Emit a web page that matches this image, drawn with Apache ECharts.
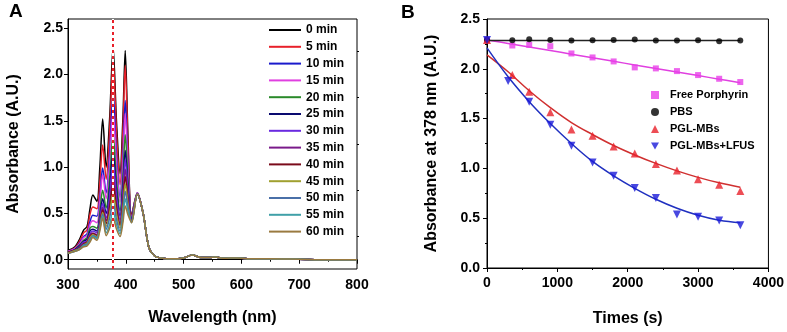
<!DOCTYPE html>
<html>
<head>
<meta charset="utf-8">
<script src="https://cdn.jsdelivr.net/npm/echarts@6/dist/echarts.min.js"></script>
<style>
  html, body { margin: 0; padding: 0; background: #fff; }
  #chart { width: 787px; height: 332px; }
</style>
</head>
<body>
<div id="chart"></div>
<script>
// panel A: absorption spectra
var wavelengths = [300, 312, 320, 327, 333, 338, 343, 350, 355, 360, 366, 372, 378, 384, 390, 395, 399, 404, 410, 420, 430, 440, 450];
var tailWavelengths = [460, 480, 500, 515, 530, 545, 555, 570, 592, 610, 650, 700, 750, 800];
var tailAbs = [0.02, 0.01, 0.02, 0.05, 0.025, 0.025, 0.03, 0.015, 0.02, 0.01, 0.01, 0.005, 0.0, 0.0];

var timeLabels = ["0 min", "5 min", "10 min", "15 min", "20 min", "25 min", "30 min", "35 min", "40 min", "45 min", "50 min", "55 min", "60 min"];
var spectraColors = ["#000000", "#e8202a", "#1a1acc", "#e040e0", "#2a8a2a", "#0a0a70", "#6a2ae0", "#7a1a8a", "#7a0a1a", "#a0a030", "#4a70a8", "#40a0a8", "#9a7a40"];

var abs0 = [0.10, 0.14, 0.22, 0.32, 0.36, 0.55, 0.70, 0.63, 0.99, 1.52, 1.00, 1.52, 2.30, 1.48, 0.93, 1.53, 2.26, 1.28, 0.48, 0.72, 0.50, 0.13, 0.04];
var abs5 = [0.09, 0.13, 0.20, 0.29, 0.32, 0.49, 0.57, 0.55, 0.83, 1.24, 0.87, 1.39, 2.18, 1.36, 0.81, 1.39, 2.10, 1.20, 0.47, 0.72, 0.50, 0.13, 0.04];
var abs10 = [0.09, 0.12, 0.18, 0.25, 0.28, 0.41, 0.48, 0.47, 0.68, 0.99, 0.72, 1.15, 1.80, 1.12, 0.67, 1.14, 1.72, 1.02, 0.45, 0.72, 0.50, 0.13, 0.04];
var abs15 = [0.09, 0.12, 0.17, 0.24, 0.26, 0.38, 0.42, 0.40, 0.62, 0.92, 0.66, 1.04, 1.62, 1.02, 0.62, 1.05, 1.58, 0.95, 0.44, 0.72, 0.50, 0.13, 0.04];
var abs20 = [0.08, 0.11, 0.16, 0.21, 0.24, 0.34, 0.36, 0.34, 0.52, 0.75, 0.56, 0.88, 1.35, 0.86, 0.53, 0.90, 1.35, 0.84, 0.43, 0.71, 0.50, 0.13, 0.04];
var abs25 = [0.08, 0.11, 0.15, 0.20, 0.22, 0.31, 0.33, 0.31, 0.46, 0.66, 0.50, 0.77, 1.18, 0.75, 0.47, 0.79, 1.18, 0.77, 0.43, 0.71, 0.50, 0.13, 0.04];
var abs30 = [0.08, 0.10, 0.14, 0.19, 0.20, 0.28, 0.31, 0.29, 0.43, 0.61, 0.45, 0.69, 1.05, 0.68, 0.43, 0.72, 1.08, 0.72, 0.42, 0.71, 0.50, 0.13, 0.04];
var abs35 = [0.08, 0.10, 0.13, 0.18, 0.19, 0.27, 0.29, 0.27, 0.40, 0.57, 0.42, 0.62, 0.92, 0.60, 0.39, 0.66, 0.98, 0.67, 0.42, 0.71, 0.50, 0.13, 0.04];
var abs40 = [0.08, 0.10, 0.13, 0.17, 0.19, 0.25, 0.28, 0.26, 0.38, 0.54, 0.39, 0.56, 0.82, 0.55, 0.37, 0.61, 0.90, 0.63, 0.41, 0.71, 0.50, 0.13, 0.04];
var abs45 = [0.07, 0.10, 0.12, 0.16, 0.18, 0.24, 0.27, 0.25, 0.36, 0.51, 0.36, 0.50, 0.72, 0.49, 0.34, 0.56, 0.82, 0.60, 0.41, 0.71, 0.50, 0.13, 0.04];
var abs50 = [0.07, 0.09, 0.12, 0.16, 0.17, 0.22, 0.26, 0.24, 0.35, 0.49, 0.33, 0.45, 0.62, 0.43, 0.31, 0.50, 0.74, 0.56, 0.41, 0.71, 0.50, 0.13, 0.04];
var abs55 = [0.07, 0.09, 0.11, 0.15, 0.16, 0.20, 0.25, 0.23, 0.33, 0.47, 0.29, 0.38, 0.52, 0.38, 0.28, 0.45, 0.66, 0.52, 0.40, 0.71, 0.50, 0.13, 0.04];
var abs60 = [0.07, 0.09, 0.11, 0.14, 0.15, 0.19, 0.24, 0.21, 0.31, 0.45, 0.26, 0.34, 0.45, 0.33, 0.25, 0.40, 0.58, 0.48, 0.40, 0.71, 0.50, 0.13, 0.04];
var spectra = [abs0, abs5, abs10, abs15, abs20, abs25, abs30, abs35, abs40, abs45, abs50, abs55, abs60];

// panel B: absorbance at 378 nm vs time
var timesA = [0, 360, 600, 900, 1200, 1500, 1800, 2100, 2400, 2700, 3000, 3300, 3600];
var timesB = [0, 300, 600, 900, 1200, 1500, 1800, 2100, 2400, 2700, 3000, 3300, 3600];
var freePorphyrin = [2.29, 2.234, 2.24, 2.227, 2.154, 2.114, 2.074, 2.014, 2.004, 1.977, 1.937, 1.90, 1.867];
var pbs = [2.29, 2.287, 2.297, 2.29, 2.284, 2.287, 2.29, 2.294, 2.284, 2.284, 2.287, 2.277, 2.284];
var pglMBs = [2.29, 1.937, 1.77, 1.564, 1.39, 1.327, 1.22, 1.15, 1.044, 0.98, 0.89, 0.835, 0.772];
var pglMBsLFUS = [2.29, 1.877, 1.67, 1.437, 1.227, 1.06, 0.927, 0.804, 0.704, 0.537, 0.514, 0.477, 0.43];

// fitted curves as drawn in the picture
var fitTimes = [0, 300, 600, 900, 1200, 1500, 1800, 2100, 2400, 2700, 3000, 3300, 3600];
var fitFree = [2.29, 2.254, 2.218, 2.183, 2.147, 2.111, 2.075, 2.039, 2.003, 1.968, 1.932, 1.896, 1.86];
var fitPBS = [2.285, 2.285, 2.285, 2.285, 2.285, 2.285, 2.285, 2.285, 2.285, 2.285, 2.285, 2.285, 2.285];
var fitMBs = [2.14, 1.97, 1.78, 1.61, 1.46, 1.34, 1.23, 1.135, 1.05, 0.975, 0.91, 0.855, 0.81];
var fitLFUS = [2.21, 1.92, 1.67, 1.45, 1.25, 1.07, 0.925, 0.80, 0.69, 0.60, 0.53, 0.48, 0.455];

var yTicksA = [0, 0.5, 1.0, 1.5, 2.0, 2.5];
var yMinorTicksA = [0.25, 0.75, 1.25, 1.75, 2.25];

function pairs(xs, ys) {
  return xs.map(function (x, i) { return [x, ys[i]]; });
}

var FONT = "'Liberation Sans', Arial, sans-serif";
var downTriangle = "path://M0,0L10,0L5,9z";

var spectraSeries = spectra.map(function (arr, i) {
  var s = {
    name: timeLabels[i],
    type: "line",
    xAxisIndex: 0,
    yAxisIndex: 0,
    showSymbol: false,
    symbol: "none",
    smooth: 0.3,
    color: spectraColors[i],
    lineStyle: { width: 1.5, color: spectraColors[i] },
    data: pairs(wavelengths, arr).concat(pairs(tailWavelengths, tailAbs)),
  };
  if (i === spectra.length - 1) {
    s.markLine = {
      silent: true,
      symbol: "none",
      label: { show: false },
      data: [
        { xAxis: 378, lineStyle: { color: "#ffffff", type: "solid", width: 2 } },
        { xAxis: 378, lineStyle: { color: "#e8202a", type: [3, 3], width: 2 } },
      ],
    };
  }
  return s;
});

function fitLine(name, data, color) {
  return {
    name: name,
    type: "line",
    xAxisIndex: 1,
    yAxisIndex: 2,
    showSymbol: false,
    symbol: "none",
    smooth: 0.4,
    lineStyle: { width: 1.5, color: color },
    data: pairs(fitTimes, data),
    z: 2,
  };
}

function pointSeries(name, times, data, symbol, size, color) {
  return {
    name: name,
    type: "scatter",
    xAxisIndex: 1,
    yAxisIndex: 2,
    symbol: symbol,
    symbolSize: size,
    itemStyle: { color: color },
    data: pairs(times, data),
    z: 3,
  };
}

var axisLabelStyle = { color: "#000", fontFamily: FONT, fontWeight: "bold", fontSize: 14 };
var axisNameStyle = { color: "#000", fontFamily: FONT, fontWeight: "bold", fontSize: 16 };

var option = {
  animation: false,
  backgroundColor: "#fff",
  graphic: [
    { type: "text", left: 9, top: 2, style: { text: "A", font: "bold 19px " + FONT, fill: "#000" } },
    { type: "text", left: 401, top: 3, style: { text: "B", font: "bold 19px " + FONT, fill: "#000" } },
  ],
  grid: [
    { left: 68, top: 19, width: 289, height: 250, show: true, borderColor: "#000", borderWidth: 1 },
    { left: 487, top: 19, width: 286, height: 250, show: true, borderColor: "#000", borderWidth: 1 },
  ],
  legend: [
    {
      data: timeLabels,
      orient: "vertical",
      left: 264,
      top: 18,
      icon: "rect",
      itemWidth: 32,
      itemHeight: 2,
      itemGap: 2.8,
      textStyle: { color: "#000", fontFamily: FONT, fontWeight: "bold", fontSize: 12, lineHeight: 14 },
    },
    {
      data: ["Free Porphyrin", "PBS", "PGL-MBs", "PGL-MBs+LFUS"],
      orient: "vertical",
      left: 646,
      top: 83,
      itemWidth: 8,
      itemHeight: 8,
      itemGap: 3,
      textStyle: { color: "#000", fontFamily: FONT, fontWeight: "bold", fontSize: 11, lineHeight: 14, padding: [0, 0, 0, 6] },
    },
  ],
  xAxis: [
    {
      gridIndex: 0,
      type: "value",
      min: 300,
      max: 800,
      interval: 100,
      name: "Wavelength (nm)",
      nameLocation: "middle",
      nameGap: 41,
      nameTextStyle: axisNameStyle,
      axisLine: { lineStyle: { color: "#000", width: 1 } },
      axisTick: { inside: false, length: 4, lineStyle: { color: "#000" } },
      minorTick: { show: true, splitNumber: 2, length: 2, lineStyle: { color: "#000" } },
      axisLabel: Object.assign({ margin: 9 }, axisLabelStyle),
      splitLine: { show: false },
    },
    {
      gridIndex: 1,
      type: "value",
      min: 0,
      max: 4000,
      interval: 1000,
      name: "Times (s)",
      nameLocation: "middle",
      nameGap: 43,
      nameTextStyle: axisNameStyle,
      axisLine: { lineStyle: { color: "#000", width: 1 } },
      axisTick: { inside: false, length: 4, lineStyle: { color: "#000" } },
      minorTick: { show: true, splitNumber: 2, length: 2, lineStyle: { color: "#000" } },
      axisLabel: Object.assign({
        margin: 8,
        formatter: function (v) { return String(v); },
      }, axisLabelStyle),
      splitLine: { show: false },
    },
  ],
  yAxis: [
    {
      gridIndex: 0,
      type: "value",
      min: -0.1,
      max: 2.6,
      name: "Absorbance (A.U.)",
      nameLocation: "middle",
      nameGap: 46,
      nameTextStyle: axisNameStyle,
      axisLine: { show: true, lineStyle: { color: "#000", width: 1 } },
      axisTick: { show: true, inside: false, length: 4, customValues: yTicksA, lineStyle: { color: "#000" } },
      axisLabel: Object.assign({
        margin: 5,
        customValues: yTicksA,
        formatter: function (v) { return v.toFixed(1); },
      }, axisLabelStyle),
      splitLine: { show: false },
    },
    {
      gridIndex: 0,
      type: "value",
      min: -0.1,
      max: 2.6,
      axisLine: { show: false },
      axisTick: { show: true, inside: false, length: 2, customValues: yMinorTicksA, lineStyle: { color: "#000" } },
      axisLabel: { show: false },
      splitLine: { show: false },
    },
    {
      gridIndex: 1,
      type: "value",
      min: 0,
      max: 2.5,
      interval: 0.5,
      name: "Absorbance at 378 nm (A.U.)",
      nameLocation: "middle",
      nameGap: 47,
      nameTextStyle: axisNameStyle,
      axisLine: { show: true, lineStyle: { color: "#000", width: 1 } },
      axisTick: { inside: false, length: 4, lineStyle: { color: "#000" } },
      minorTick: { show: true, splitNumber: 2, length: 2, lineStyle: { color: "#000" } },
      axisLabel: Object.assign({
        margin: 7,
        formatter: function (v) { return v.toFixed(1); },
      }, axisLabelStyle),
      splitLine: { show: false },
    },
  ],
  series: spectraSeries.concat([
    fitLine("fitFree", fitFree, "#e040e0"),
    fitLine("fitPBS", fitPBS, "#222222"),
    fitLine("fitMBs", fitMBs, "#d03030"),
    fitLine("fitLFUS", fitLFUS, "#2030c0"),
    pointSeries("Free Porphyrin", timesA, freePorphyrin, "rect", 6, "#e83ee8"),
    pointSeries("PBS", timesA, pbs, "circle", 6, "#000000"),
    pointSeries("PGL-MBs", timesA, pglMBs, "triangle", 8, "#e8202a"),
    pointSeries("PGL-MBs+LFUS", timesB, pglMBsLFUS, downTriangle, 8, "#1a1ad8"),
  ]),
};

var myChart = echarts.init(document.getElementById("chart"), null, { renderer: "canvas" });
myChart.setOption(option);
</script>
</body>
</html>
